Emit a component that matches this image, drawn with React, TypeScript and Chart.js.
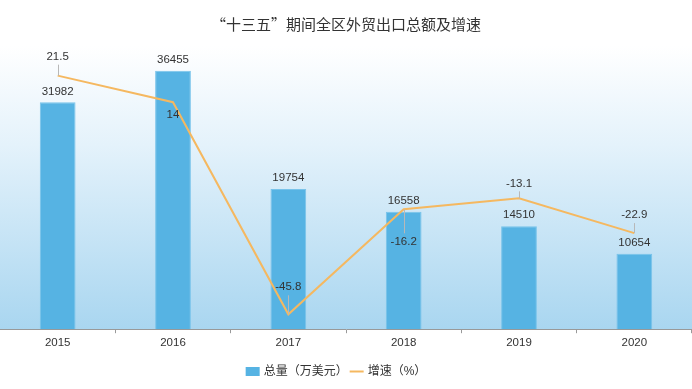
import { useEffect, useRef } from "react";
import { Chart, registerables } from "chart.js";

Chart.register(...registerables);

const years = ["2015", "2016", "2017", "2018", "2019", "2020"];
const totalValues = [31982, 36455, 19754, 16558, 14510, 10654];
const growthRates = [21.5, 14, -45.8, -16.2, -13.1, -22.9];
const seriesNames = ["总量（万美元）", "增速（%）"];
const titleText = "“十三五”期间全区外贸出口总额及增速";
// vertical offset (px) of each growth label from its point; negative = above
const growthLabelOffsets = [-19, 13, -27, 32, -15, -18];

const NUM_FONT = "'Liberation Sans', Arial, sans-serif";
const CJK_FONT = "'Liberation Sans', 'Noto Sans CJK SC', sans-serif";
const TITLE_FONT = "'Noto Sans CJK SC', sans-serif";
const BAR_COLOR = "#56b3e3";
const LINE_COLOR = "#f5b860";

const bgPlugin = {
  id: "bgGradient",
  beforeDraw(chart: any) {
    const { ctx, chartArea: a, width } = chart;
    ctx.save();
    ctx.fillStyle = "#ffffff";
    ctx.fillRect(0, 0, width, chart.height);
    const g = ctx.createLinearGradient(0, a.top, 0, a.bottom);
    g.addColorStop(0, "#ffffff");
    g.addColorStop(0.35, "#e4f2fb");
    g.addColorStop(1, "#a9d6f0");
    ctx.fillStyle = g;
    ctx.fillRect(0, a.top, width, a.bottom - a.top);
    ctx.restore();
  },
};

const labelPlugin = {
  id: "valueLabels",
  afterDatasetsDraw(chart: any) {
    const ctx = chart.ctx;
    ctx.save();
    ctx.font = `11.5px ${NUM_FONT}`;
    ctx.fillStyle = "#333333";
    ctx.textAlign = "center";
    ctx.textBaseline = "middle";
    chart.getDatasetMeta(0).data.forEach((el: any, i: number) => {
      ctx.fillText(String(totalValues[i]), el.x, el.y - 11);
    });
    chart.getDatasetMeta(1).data.forEach((el: any, i: number) => {
      const off = growthLabelOffsets[i];
      const ly = el.y + off;
      if (Math.abs(off) > 14) {
        ctx.strokeStyle = "#b8b8b8";
        ctx.lineWidth = 1;
        const x = Math.round(el.x) + 0.5;
        ctx.beginPath();
        ctx.moveTo(x, el.y);
        ctx.lineTo(x, ly - Math.sign(off) * 8);
        ctx.stroke();
      }
      ctx.fillText(String(growthRates[i]), el.x, ly);
    });
    ctx.restore();
  },
};

const legendPlugin = {
  id: "customLegend",
  afterDraw(chart: any) {
    const ctx = chart.ctx;
    ctx.save();
    ctx.font = `12px ${CJK_FONT}`;
    ctx.textBaseline = "middle";
    ctx.textAlign = "left";
    const y = chart.height - 17.5;
    const boxW = 14;
    const gapBoxText = 4;
    const gapItems = 2;
    const w1 = ctx.measureText(seriesNames[0]).width;
    const w2 = ctx.measureText(seriesNames[1]).width;
    const total = boxW + gapBoxText + w1 + gapItems + boxW + gapBoxText + w2;
    let x = chart.width / 2 - total / 2 - 10;
    ctx.fillStyle = BAR_COLOR;
    ctx.fillRect(x, y - 4.5, boxW, 9);
    x += boxW + gapBoxText;
    ctx.fillStyle = "#333333";
    ctx.fillText(seriesNames[0], x, y);
    x += w1 + gapItems;
    ctx.strokeStyle = LINE_COLOR;
    ctx.lineWidth = 2;
    ctx.beginPath();
    ctx.moveTo(x, y);
    ctx.lineTo(x + boxW, y);
    ctx.stroke();
    x += boxW + gapBoxText;
    ctx.fillText(seriesNames[1], x, y);
    ctx.restore();
  },
};

export default function App() {
  const ref = useRef<HTMLCanvasElement | null>(null);
  useEffect(() => {
    document.body.style.margin = "0";
    if (!ref.current) return;
    const chart = new Chart(ref.current, {
      type: "bar",
      data: {
        labels: years,
        datasets: [
          {
            type: "bar",
            label: seriesNames[0],
            data: totalValues,
            backgroundColor: BAR_COLOR,
            borderColor: "#78c3ea",
            borderWidth: 1,
            barPercentage: 0.31,
            categoryPercentage: 1,
            yAxisID: "y",
            order: 1,
          },
          {
            type: "line",
            label: seriesNames[1],
            data: growthRates,
            borderColor: LINE_COLOR,
            borderWidth: 2,
            pointRadius: 0,
            tension: 0,
            fill: false,
            yAxisID: "y1",
            order: 0,
          },
        ],
      },
      options: {
        responsive: false,
        animation: false,
        layout: { padding: { top: 0, bottom: 36, left: 0, right: 0 } },
        plugins: {
          legend: { display: false },
          tooltip: { enabled: false },
          title: {
            display: true,
            text: titleText,
            color: "#333333",
            font: { size: 15, family: TITLE_FONT, weight: "normal", lineHeight: 1.2 },
            padding: { top: 15, bottom: 12.5 },
          },
        },
        scales: {
          x: {
            offset: true,
            grid: {
              display: true,
              drawOnChartArea: false,
              drawTicks: true,
              tickLength: 4,
              color: "#999999",
              offset: true,
            },
            border: { display: true, color: "#999999" },
            ticks: {
              color: "#333333",
              font: { size: 11.5, family: NUM_FONT },
              padding: 3,
            },
          },
          y: { display: false, min: 0, max: 40000 },
          y1: { display: false, min: -50, max: 30 },
        },
      },
      plugins: [bgPlugin, labelPlugin, legendPlugin],
    });
    return () => chart.destroy();
  }, []);
  return (
    <div style={{ width: 692, height: 389 }}>
      <canvas ref={ref} width={692} height={389} style={{ display: "block" }} />
    </div>
  );
}
